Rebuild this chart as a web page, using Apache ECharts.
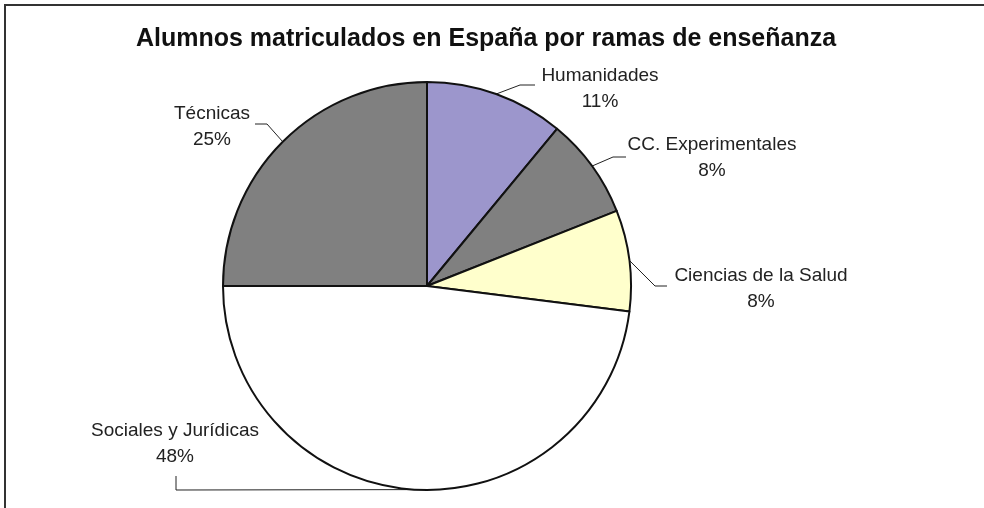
<!DOCTYPE html>
<html>
<head>
<meta charset="utf-8">
<script src="https://cdn.jsdelivr.net/npm/echarts@6/dist/echarts.min.js"></script>
<style>
  html, body { margin: 0; padding: 0; background: #fff; }
  #chart { width: 984px; height: 508px; }
</style>
</head>
<body>
<div id="chart"></div>
<script>
// Enrolment share by branch of study (percent)
const ramas = ['Humanidades', 'CC. Experimentales', 'Ciencias de la Salud', 'Sociales y Jurídicas', 'Técnicas'];
const porcentajes = [11, 8, 8, 48, 25];
const colores = ['#9C96CC', '#808080', '#FFFFCC', '#FFFFFF', '#808080'];

// Label placement: text block centre, leader-line elbow and leader-line end
const labelCentre = [[600, 89], [712, 158], [761, 289], [175, 444], [212, 127]];
const leaderElbow = [[520, 85], [613, 157], [655, 286], [176, 490], [267, 124]];
const leaderEnd = [[535, 85], [626, 157], [667, 286], [176, 476], [255, 124]];

const FONT = '"Liberation Sans", Arial, Helvetica, sans-serif';

const chart = echarts.init(document.getElementById('chart'), null, { renderer: 'canvas' });

chart.setOption({
  backgroundColor: '#ffffff',
  animation: false,
  title: {
    text: 'Alumnos matriculados en España por ramas de enseñanza',
    left: 481,
    top: 22,
    textAlign: 'center',
    textStyle: { fontFamily: FONT, fontSize: 25, fontWeight: 'bold', color: '#111' }
  },
  graphic: [{
    type: 'polyline',
    shape: { points: [[5, 508], [5, 5], [984, 5]] },
    style: { stroke: '#333', lineWidth: 2, fill: null },
    silent: true
  }],
  series: [{
    type: 'pie',
    center: [427, 286],
    radius: 204,
    startAngle: 90,
    clockwise: true,
    silent: true,
    data: ramas.map((name, i) => ({
      name: name,
      value: porcentajes[i],
      itemStyle: { color: colores[i] }
    })),
    itemStyle: { borderColor: '#111', borderWidth: 2 },
    label: {
      show: true,
      position: 'outside',
      formatter: '{b}\n{d}%',
      fontFamily: FONT,
      fontSize: 19,
      lineHeight: 26,
      color: '#222',
      align: 'center'
    },
    labelLine: {
      show: true,
      lineStyle: { color: '#222', width: 1 }
    },
    labelLayout: function (params) {
      const i = params.dataIndex;
      const arcPoint = params.labelLinePoints ? params.labelLinePoints[0] : leaderElbow[i];
      return {
        x: labelCentre[i][0],
        y: labelCentre[i][1],
        align: 'center',
        verticalAlign: 'middle',
        labelLinePoints: [arcPoint, leaderElbow[i], leaderEnd[i]]
      };
    }
  }]
});
</script>
</body>
</html>
